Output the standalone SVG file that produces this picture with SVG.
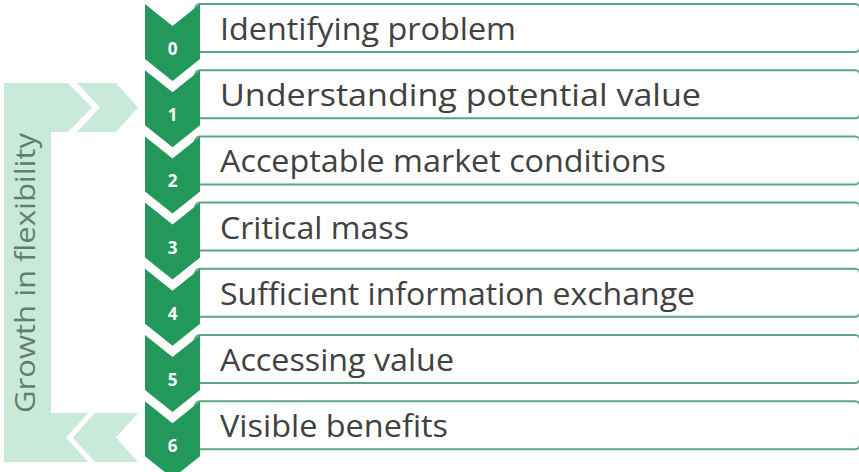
<svg xmlns="http://www.w3.org/2000/svg" width="859" height="472" viewBox="0 0 859 472">
<defs>
<style>
.box{fill:#ffffff;stroke:#5aa582;stroke-width:2}
.chev{fill:#22995a}
.num{font-family:"Open Sans","Liberation Sans",sans-serif;font-weight:bold;font-size:17px;fill:#ffffff;text-anchor:middle}
.lbl{font-family:"Open Sans","Liberation Sans",sans-serif;font-size:31px;fill:#414141}
.band{fill:#c9e9da}
.side{font-family:"Open Sans","Liberation Sans",sans-serif;font-size:28px;fill:#5e7f70}
</style>
<polygon id="chevShape" class="chev" points="145,0 172.5,22 200,0 200,55 172.5,77 145,55"/>
</defs>
<rect width="859" height="472" fill="#ffffff"/>
<g id="flexibility">
<path class="band" d="M4,83 H68 L92,107.5 L68,132 H51 V413 H88 L66,437.5 L88,462 H4 Z"/>
<path class="band" d="M77,83 H116 L138,107.5 L116,132 H77 L100,107.5 Z"/>
<path class="band" d="M95,413 H138 L116,437.5 L138,462 H95 L73,437.5 Z"/>
<text class="side" transform="translate(35,413) rotate(-90)" textLength="280" lengthAdjust="spacingAndGlyphs">Growth in flexibility</text>
</g>
<g id="connectors"></g>
<g id="step0" transform="translate(0,4)">
<rect class="box" x="195" y="0" width="665" height="48" rx="5"/>
<use href="#chevShape"/>
<text class="num" x="172.5" y="51">0</text>
<text class="lbl" x="220" y="36" textLength="296" lengthAdjust="spacingAndGlyphs">Identifying problem</text>
</g>
<g id="step1" transform="translate(0,70.2)">
<rect class="box" x="195" y="0" width="665" height="48" rx="5"/>
<use href="#chevShape"/>
<text class="num" x="172.5" y="51">1</text>
<text class="lbl" x="220" y="36" textLength="481" lengthAdjust="spacingAndGlyphs">Understanding potential value</text>
</g>
<g id="step2" transform="translate(0,136.4)">
<rect class="box" x="195" y="0" width="665" height="48" rx="5"/>
<use href="#chevShape"/>
<text class="num" x="172.5" y="51">2</text>
<text class="lbl" x="220" y="36" textLength="446" lengthAdjust="spacingAndGlyphs">Acceptable market conditions</text>
</g>
<g id="step3" transform="translate(0,202.6)">
<rect class="box" x="195" y="0" width="665" height="48" rx="5"/>
<use href="#chevShape"/>
<text class="num" x="172.5" y="51">3</text>
<text class="lbl" x="220" y="36" textLength="189" lengthAdjust="spacingAndGlyphs">Critical mass</text>
</g>
<g id="step4" transform="translate(0,268.8)">
<rect class="box" x="195" y="0" width="665" height="48" rx="5"/>
<use href="#chevShape"/>
<text class="num" x="172.5" y="51">4</text>
<text class="lbl" x="220" y="36" textLength="475" lengthAdjust="spacingAndGlyphs">Sufficient information exchange</text>
</g>
<g id="step5" transform="translate(0,335)">
<rect class="box" x="195" y="0" width="665" height="48" rx="5"/>
<use href="#chevShape"/>
<text class="num" x="172.5" y="51">5</text>
<text class="lbl" x="220" y="36" textLength="234" lengthAdjust="spacingAndGlyphs">Accessing value</text>
</g>
<g id="step6" transform="translate(0,401.2)">
<rect class="box" x="195" y="0" width="665" height="48" rx="5"/>
<use href="#chevShape"/>
<text class="num" x="172.5" y="51">6</text>
<text class="lbl" x="220" y="36" textLength="228" lengthAdjust="spacingAndGlyphs">Visible benefits</text>
</g>
</svg>
